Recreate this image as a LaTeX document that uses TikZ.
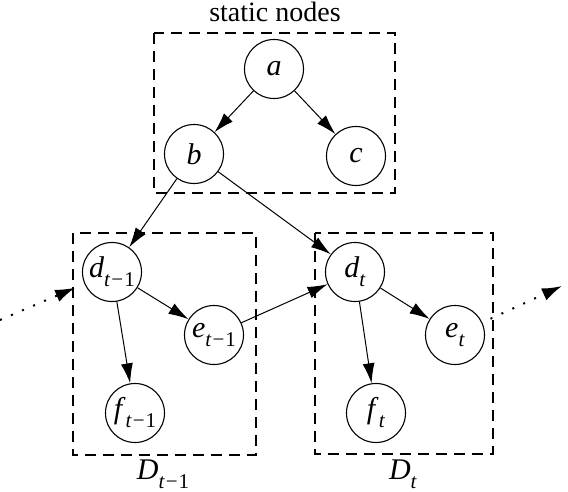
\documentclass[tikz,border=0pt]{standalone}
\usepackage{fontspec}
\setmainfont{Liberation Serif}
\usetikzlibrary{arrows.meta}
\newcommand{\vsub}[2]{\textit{#1}\raisebox{-0.3em}{\fontsize{21}{21}\selectfont #2}}
\newcommand{\tmo}{\textit{t}\kern1pt−\kern1pt1}
\begin{document}
\begin{tikzpicture}[x=1pt,y=-1pt,
  var/.style={circle,draw,line width=1.1pt,minimum size=59pt,inner sep=0pt,font=\fontsize{30}{32}\selectfont},
  edge/.style={line width=1pt,-{Latex[length=20pt,width=12pt]}},
  dotedge/.style={line width=2pt,dash pattern=on 2pt off 10pt,-{Latex[length=20pt,width=13pt]}},
  box/.style={draw,line width=1.8pt,dash pattern=on 11pt off 7pt},
  lbl/.style={font=\fontsize{28}{30}\selectfont}]
\useasboundingbox (0,0) rectangle (568,492);
\draw[box] (154,33) rectangle (395,193);
\draw[box] (73,233) rectangle (256,455);
\draw[box] (315,233) rectangle (493,454);
\node[lbl] (st) at (275,12) {static nodes};
\node[lbl,font=\fontsize{30}{32}\selectfont] (D1) at (163,474) {\vsub{D}{\tmo}};
\node[lbl,font=\fontsize{30}{32}\selectfont] (D2) at (403,474) {\vsub{D}{\textit{t}}};
\node[var] (a) at (274,69) {\textit{a}};
\node[var] (b) at (194,154) {\textit{b}};
\node[var] (c) at (356,156) {\textit{c}};
\node[var] (d1) at (112,272) {\vsub{d}{\tmo}};
\node[var] (e1) at (214,335) {\vsub{e}{\tmo}};
\node[var] (f1) at (135,413) {\vsub{f}{\tmo}};
\node[var] (d2) at (355,272) {\vsub{d}{\textit{t}}};
\node[var] (e2) at (455,335) {\vsub{e}{\textit{t}}};
\node[var] (f2) at (376,413) {\vsub{f}{\textit{t}}};
\coordinate (in) at (0,320);
\coordinate (out) at (562,286);
\draw[edge] (a) -- (b);
\draw[edge] (a) -- (c);
\draw[edge] (b) -- (d1);
\draw[edge] (b) -- (d2);
\draw[edge] (d1) -- (e1);
\draw[edge] (d1) -- (f1);
\draw[edge] (e1) -- (d2);
\draw[edge] (d2) -- (e2);
\draw[edge] (d2) -- (f2);
\draw[dotedge,shorten >=10pt] (in) -- (d1);
\draw[dotedge,shorten <=9pt] (e2) -- (out);
\end{tikzpicture}
\end{document}
